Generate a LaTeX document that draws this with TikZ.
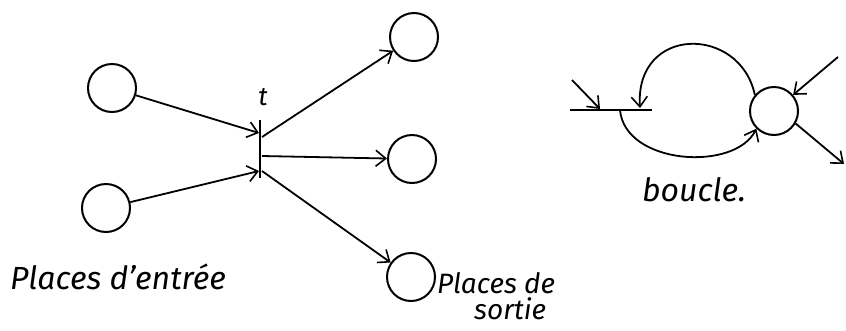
\documentclass[tikz,border=0pt]{standalone}
\usepackage{fontspec}
\setmainfont{Fira Sans}
\usetikzlibrary{arrows.meta}
\begin{document}
\begin{tikzpicture}[x=1pt,y=-1pt,
  place/.style={circle,draw,line width=2pt,minimum size=48pt,inner sep=0pt},
  arc/.style={line width=1.8pt,-{Straight Barb[length=10pt,width=16pt,line width=1.6pt]}},
  plain/.style={line width=1.8pt},
  lbl/.style={font=\fontsize{32}{34}\selectfont\itshape,inner sep=0pt},
  slbl/.style={font=\fontsize{28}{30}\selectfont\itshape,inner sep=0pt}]
\useasboundingbox (0,0) rectangle (846,330);
% left net
\node[place] (i1) at (112,88) {};
\node[place] (i2) at (106,208) {};
\node[place] (o1) at (414,37) {};
\node[place] (o2) at (412,159) {};
\node[place] (o3) at (411,277) {};
\coordinate (ttop) at (260,120);
\coordinate (tbot) at (260,178);
\draw[plain] (ttop) -- (tbot);
\coordinate (ta) at (259,133);
\coordinate (tb) at (259,171);
\coordinate (tc) at (262,137);
\coordinate (td) at (262,156);
\coordinate (te) at (262,171);
\draw[arc] (i1) -- (ta);
\draw[arc] (i2) -- (tb);
\draw[arc] (tc) -- (o1);
\draw[arc] (td) -- (o2);
\draw[arc] (te) -- (o3);
\node[lbl,font=\fontsize{26}{30}\selectfont\itshape] (tl) at (263,97) {t};
\node[lbl,anchor=west] (pe) at (10,277) {Places d'entrée};
\node[slbl,anchor=west] (ps1) at (437,283) {Places de};
\node[slbl,anchor=west] (ps2) at (474,309) {sortie};
% boucle
\node[place] (c) at (774,111) {};
\coordinate (b1) at (570,110);
\coordinate (b2) at (652,110);
\draw[plain] (b1) -- (b2);
\coordinate (bin) at (600,109);
\coordinate (bup) at (640,108);
\coordinate (blo) at (620,110);
\coordinate (src) at (572,80);
\coordinate (ne) at (838,57);
\coordinate (se) at (844,164);
\draw[arc] (src) -- (bin);
\draw[arc] (c.140) .. controls (740,25) and (635,25) .. (bup);
\draw[arc] (blo) .. controls (625,165) and (735,172) .. (c.225);
\draw[arc] (ne) -- (c);
\draw[arc] (c.330) -- (se);
\node[lbl] (bl) at (694,190) {boucle.};
\end{tikzpicture}
\end{document}
